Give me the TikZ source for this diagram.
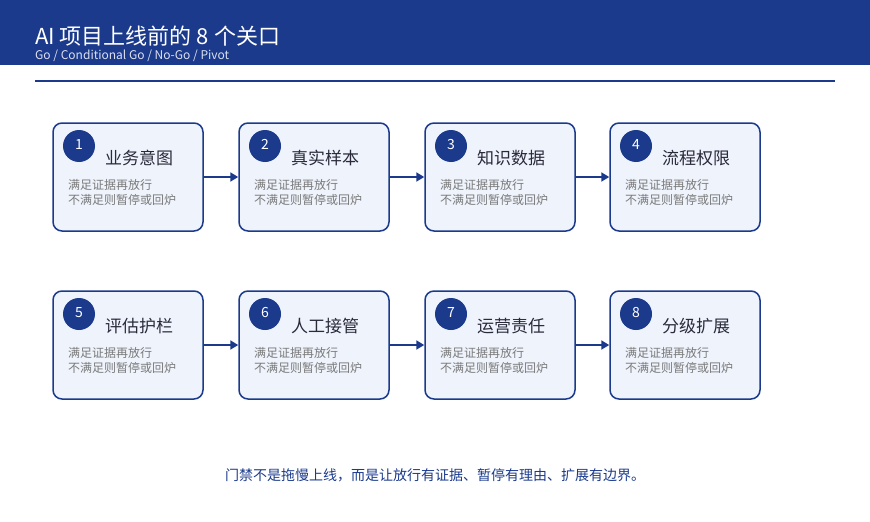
\documentclass[tikz,border=0pt]{standalone}
\usepackage{fontspec}
\setmainfont{Noto Sans CJK SC}
\usetikzlibrary{arrows.meta}
\definecolor{navy}{HTML}{1B3A8C}
\definecolor{boxfill}{HTML}{EEF3FC}
\definecolor{desc}{HTML}{7A7A7A}
\definecolor{ttl}{HTML}{2A2A3A}
\begin{document}
\begin{tikzpicture}[x=1pt,y=-1pt,
  gate/.style={draw=navy,line width=1.5pt,fill=boxfill,rounded corners=9pt,minimum width=150pt,minimum height=108pt,inner sep=0pt},
  num/.style={circle,fill=navy,minimum size=32pt,inner sep=0pt,text=white,font=\fontsize{14}{14}\selectfont},
  gtitle/.style={anchor=west,text=ttl,font=\fontsize{17}{17}\selectfont,inner sep=0pt},
  gdesc/.style={anchor=north west,text=desc,align=left,font=\fontsize{12}{15}\selectfont,inner sep=0pt},
  flow/.style={draw=navy,line width=1.8pt,-{Triangle[length=8pt,width=9pt]}}]
\useasboundingbox (0,0) rectangle (870,522);
\fill[navy] (0,0) rectangle (870,65);
\node[anchor=base west,text=white,font=\fontsize{22}{22}\selectfont,inner sep=0pt] (title) at (35,44) {AI 项目上线前的 8 个关口};
\node[anchor=base west,text=white!85!navy,font=\fontsize{12}{12}\selectfont,inner sep=0pt] (sub) at (35,59) {Go / Conditional Go / No-Go / Pivot};
\draw[navy,line width=1.5pt] (35,81) coordinate (l1) -- (835,81) coordinate (l2);
\foreach \i/\x/\y/\t in {1/128/177/业务意图,2/314/177/真实样本,3/500/177/知识数据,4/685/177/流程权限,5/128/345/评估护栏,6/314/345/人工接管,7/500/345/运营责任,8/685/345/分级扩展}{
  \node[gate] (g\i) at (\x,\y) {};
  \node[num] (n\i) at (\x-49,\y-31) {\raisebox{3pt}{\i}};
  \node[gtitle] (t\i) at (\x-23,\y-19) {\t};
  \node[gdesc] (d\i) at (\x-60,\y+2) {满足证据再放行\\不满足则暂停或回炉};
}
\foreach \a/\b in {1/2,2/3,3/4,5/6,6/7,7/8}{\draw[flow] (g\a.east) -- (g\b.west);}
\node[text=navy,font=\fontsize{14}{14}\selectfont,inner sep=0pt] (foot) at (435,475) {门禁不是拖慢上线，而是让放行有证据、暂停有理由、扩展有边界。};
\end{tikzpicture}
\end{document}
